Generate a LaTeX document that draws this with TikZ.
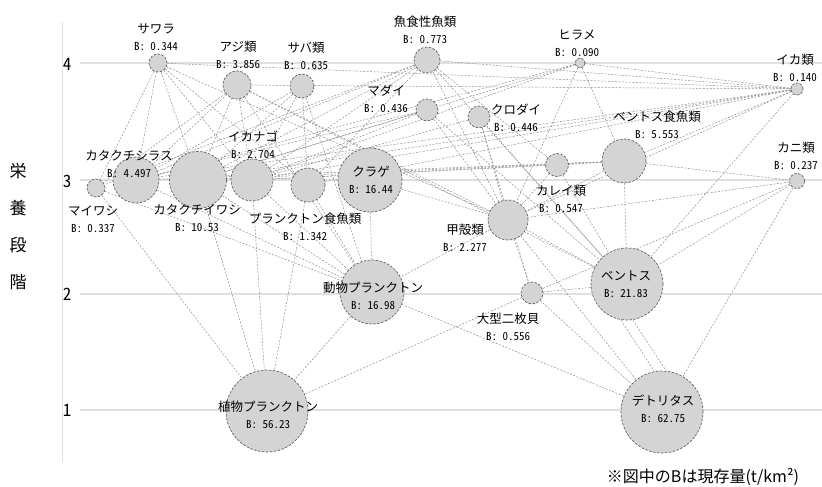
\documentclass[tikz,border=0pt]{standalone}
\usepackage{fontspec}
\setmainfont{Noto Sans CJK JP}
\newfontfamily\numfont{Noto Sans CJK JP}[RawFeature=+hwid]

\newlength{\du}
\setlength{\du}{1pt}

\definecolor{circfill}{rgb}{0.830000, 0.830000, 0.830000}
\definecolor{circline}{rgb}{0.380000, 0.380000, 0.380000}
\definecolor{linkcolor}{rgb}{0.560000, 0.560000, 0.560000}
\definecolor{gridcolor}{rgb}{0.880000, 0.880000, 0.880000}

\newcommand{\bv}[1]{{\numfont\fontsize{11}{17}\selectfont B: #1}}

\pgfdeclarelayer{grid}
\pgfdeclarelayer{edges}
\pgfsetlayers{grid,edges,main}

\tikzset{
  circ/.style={circle, draw=circline, fill=circfill, dash pattern=on 2.5pt off 1.5pt, line width=0.7pt, inner sep=0pt},
  lbl/.style={align=center, inner sep=0pt, font=\fontsize{12.5}{17}\selectfont},
  link/.style={draw=linkcolor, dash pattern=on 2pt off 1.5pt, line width=0.5pt},
  gridline/.style={draw=gridcolor, line width=1.2pt},
  tick/.style={inner sep=0pt, font=\numfont\fontsize{17}{17}\selectfont},
}

\begin{document}
\begin{tikzpicture}
\pgftransformxscale{1.000000}
\pgftransformyscale{-1.000000}
\useasboundingbox (0\du,0\du) rectangle (822\du,487\du);
% axis
\begin{pgfonlayer}{grid}
\draw[gridcolor, line width=0.6pt] (62\du,22\du) -- (62\du,462\du);
\draw[gridline] (80\du,63\du) -- (822\du,63\du);
\draw[gridline] (80\du,180\du) -- (822\du,180\du);
\draw[gridline] (80\du,294\du) -- (822\du,294\du);
\draw[gridline] (80\du,410\du) -- (822\du,410\du);
\end{pgfonlayer}
\node[tick] (t4) at (67\du,64\du) {4};
\node[tick] (t3) at (67\du,181\du) {3};
\node[tick] (t2) at (67\du,294\du) {2};
\node[tick] (t1) at (67\du,410\du) {1};
\node[align=center, inner sep=0pt, font=\fontsize{17}{37}\selectfont] (ttl) at (18\du,227\du) {栄\\養\\段\\階};
% level 4
\node[circ, minimum size=18\du] (saw) at (158\du,63\du) {};
\node[circ, minimum size=28\du] (aji) at (237\du,85\du) {};
\node[circ, minimum size=24\du] (saba) at (302\du,86\du) {};
\node[circ, minimum size=26\du] (gyo) at (427\du,60\du) {};
\node[circ, minimum size=10\du] (hira) at (580\du,63\du) {};
\node[circ, minimum size=12\du] (ikarui) at (797\du,89\du) {};
\node[circ, minimum size=22\du] (madai) at (427\du,110\du) {};
\node[circ, minimum size=22\du] (kuro) at (479\du,117\du) {};
\node[circ, minimum size=44\du] (bfish) at (624\du,161\du) {};
\node[circ, minimum size=15\du] (kani) at (797\du,181\du) {};
% level 3
\node[circ, minimum size=46\du] (shir) at (136\du,180\du) {};
\node[circ, minimum size=57\du] (kata) at (198\du,180\du) {};
\node[circ, minimum size=42\du] (ikan) at (252\du,180\du) {};
\node[circ, minimum size=18\du] (maiw) at (96\du,188\du) {};
\node[circ, minimum size=34\du] (plank) at (308\du,185\du) {};
\node[circ, minimum size=64\du] (kurage) at (370\du,180\du) {};
\node[circ, minimum size=23\du] (karei) at (557\du,165\du) {};
\node[circ, minimum size=40\du] (kou) at (508\du,220\du) {};
% level 2
\node[circ, minimum size=64\du] (zoo) at (372\du,292\du) {};
\node[circ, minimum size=22\du] (nimai) at (532\du,293\du) {};
\node[circ, minimum size=72\du] (bent) at (627\du,284\du) {};
% level 1
\node[circ, minimum size=82\du] (phyto) at (267\du,411\du) {};
\node[circ, minimum size=82\du] (det) at (662\du,412\du) {};
% labels
\node[lbl] (sawL) at (156\du,37\du) {サワラ\\\bv{0.344}};
\node[lbl] (ajiL) at (238\du,55\du) {アジ類\\\bv{3.856}};
\node[lbl] (sabaL) at (306\du,56\du) {サバ類\\\bv{0.635}};
\node[lbl] (gyoL) at (425\du,30\du) {魚食性魚類\\\bv{0.773}};
\node[lbl] (hiraL) at (577\du,43\du) {ヒラメ\\\bv{0.090}};
\node[lbl] (ikaruiL) at (795\du,68\du) {イカ類\\\bv{0.140}};
\node[lbl] (madaiL) at (386\du,99\du) {マダイ\\\bv{0.436}};
\node[lbl] (kuroL) at (516\du,118\du) {クロダイ\\\bv{0.446}};
\node[lbl] (bfishL) at (657\du,125\du) {ベントス食魚類\\\bv{5.553}};
\node[lbl] (kaniL) at (796\du,156\du) {カニ類\\\bv{0.237}};
\node[lbl] (shirL) at (129\du,164\du) {カタクチシラス\\\bv{4.497}};
\node[lbl] (kataL) at (197\du,218\du) {カタクチイワシ\\\bv{10.53}};
\node[lbl] (ikanL) at (253\du,145\du) {イカナゴ\\\bv{2.704}};
\node[lbl] (maiwL) at (93\du,219\du) {マイワシ\\\bv{0.337}};
\node[lbl] (plankL) at (305\du,227\du) {プランクトン食魚類\\\bv{1.342}};
\node[lbl] (kurageL) at (371\du,180\du) {クラゲ\\\bv{16.44}};
\node[lbl] (kareiL) at (561\du,199\du) {カレイ類\\\bv{0.547}};
\node[lbl] (kouL) at (465\du,238\du) {甲殻類\\\bv{2.277}};
\node[lbl] (zooL) at (373\du,296\du) {動物プランクトン\\\bv{16.98}};
\node[lbl] (nimaiL) at (508\du,327\du) {大型二枚貝\\\bv{0.556}};
\node[lbl] (bentL) at (626\du,284\du) {ベントス\\\bv{21.83}};
\node[lbl] (phytoL) at (268\du,415\du) {植物プランクトン\\\bv{56.23}};
\node[lbl] (detL) at (663\du,409\du) {デトリタス\\\bv{62.75}};
\node[inner sep=0pt, font=\fontsize{16}{16}\selectfont] (note) at (703\du,477\du) {※図中のBは現存量(t/km²)};
% links
\begin{pgfonlayer}{edges}
\draw[link] (saw) -- (maiw);
\draw[link] (saw) -- (shir);
\draw[link] (saw) -- (kata);
\draw[link] (saw) -- (ikan);
\draw[link] (saw) -- (kou);
\draw[link] (saw) -- (ikarui);
\draw[link] (saw) -- (plank);
\draw[link] (aji) -- (maiw);
\draw[link] (aji) -- (shir);
\draw[link] (aji) -- (kata);
\draw[link] (aji) -- (ikan);
\draw[link] (aji) -- (zoo);
\draw[link] (aji) -- (kou);
\draw[link] (aji) -- (ikarui);
\draw[link] (aji) -- (bent);
\draw[link] (saba) -- (shir);
\draw[link] (saba) -- (kata);
\draw[link] (saba) -- (ikan);
\draw[link] (saba) -- (zoo);
\draw[link] (saba) -- (plank);
\draw[link] (gyo) -- (shir);
\draw[link] (gyo) -- (kata);
\draw[link] (gyo) -- (ikan);
\draw[link] (gyo) -- (plank);
\draw[link] (gyo) -- (maiw);
\draw[link] (gyo) -- (kou);
\draw[link] (gyo) -- (ikarui);
\draw[link] (gyo) -- (bent);
\draw[link] (gyo) -- (karei);
\draw[link] (hira) -- (shir);
\draw[link] (hira) -- (kata);
\draw[link] (hira) -- (ikan);
\draw[link] (hira) -- (kou);
\draw[link] (hira) -- (bfish);
\draw[link] (hira) -- (ikarui);
\draw[link] (ikarui) -- (shir);
\draw[link] (ikarui) -- (kata);
\draw[link] (ikarui) -- (ikan);
\draw[link] (ikarui) -- (kou);
\draw[link] (ikarui) -- (bent);
\draw[link] (ikarui) -- (bfish);
\draw[link] (ikarui) -- (plank);
\draw[link] (madai) -- (shir);
\draw[link] (madai) -- (kata);
\draw[link] (madai) -- (ikan);
\draw[link] (madai) -- (kou);
\draw[link] (madai) -- (bent);
\draw[link] (kuro) -- (ikan);
\draw[link] (kuro) -- (kou);
\draw[link] (kuro) -- (bent);
\draw[link] (kuro) -- (nimai);
\draw[link] (bfish) -- (shir);
\draw[link] (bfish) -- (kata);
\draw[link] (bfish) -- (ikan);
\draw[link] (bfish) -- (kou);
\draw[link] (bfish) -- (karei);
\draw[link] (bfish) -- (bent);
\draw[link] (bfish) -- (kani);
\draw[link] (kani) -- (kou);
\draw[link] (kani) -- (bent);
\draw[link] (kani) -- (nimai);
\draw[link] (kani) -- (det);
\draw[link] (karei) -- (ikan);
\draw[link] (karei) -- (kou);
\draw[link] (karei) -- (bent);
\draw[link] (kurage) -- (kou);
\draw[link] (kurage) -- (zoo);
\draw[link] (shir) -- (zoo);
\draw[link] (kata) -- (zoo);
\draw[link] (kata) -- (phyto);
\draw[link] (ikan) -- (zoo);
\draw[link] (ikan) -- (phyto);
\draw[link] (maiw) -- (zoo);
\draw[link] (maiw) -- (phyto);
\draw[link] (plank) -- (zoo);
\draw[link] (plank) -- (phyto);
\draw[link] (kou) -- (zoo);
\draw[link] (kou) -- (nimai);
\draw[link] (kou) -- (bent);
\draw[link] (kou) -- (det);
\draw[link] (zoo) -- (phyto);
\draw[link] (zoo) -- (det);
\draw[link] (nimai) -- (phyto);
\draw[link] (nimai) -- (det);
\draw[link] (nimai) -- (bent);
\draw[link] ([xshift=-6\du]bent.south) -- ([xshift=-8\du]det.north);
\draw[link] ([xshift=6\du]bent.south) -- ([xshift=4\du]det.north);
\end{pgfonlayer}
\end{tikzpicture}
\end{document}
